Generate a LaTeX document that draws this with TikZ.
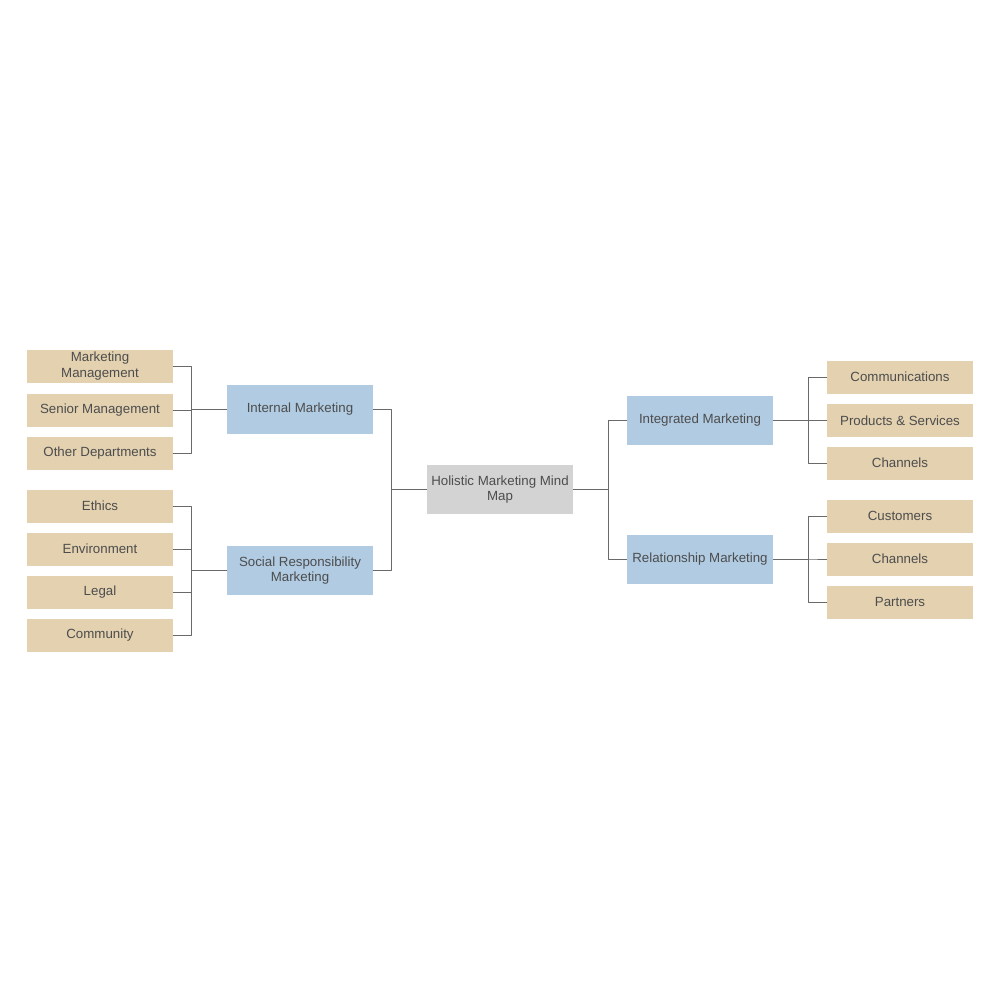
\documentclass[tikz,border=0pt]{standalone}
\usepackage{fontspec}
\setmainfont{Liberation Sans}
\definecolor{leaffill}{RGB}{227,209,176}
\definecolor{branchfill}{RGB}{176,203,226}
\definecolor{rootfill}{RGB}{211,211,211}
\definecolor{textgray}{RGB}{77,77,77}
\definecolor{linegray}{RGB}{105,105,105}

\begin{document}
\begin{tikzpicture}[x=1pt,y=-1pt,line join=round,
  every node/.style={inner sep=1pt,align=center,text=textgray,font=\fontsize{13.3}{15.5}\selectfont},
  leaf/.style={fill=leaffill,minimum width=146pt,minimum height=33pt},
  branch/.style={fill=branchfill,minimum width=146pt,minimum height=49pt},
  root/.style={fill=rootfill,minimum width=146pt,minimum height=49pt},
  link/.style={draw=linegray,line width=0.8pt}]
  \def\g{35}
  \useasboundingbox (0,0) rectangle (1000,1000);
  % centre and main branches
  \node[root] (hmm) at (500,489.5) {Holistic Marketing Mind\\Map};
  \node[branch] (im) at (300,409.5) {Internal Marketing};
  \node[branch] (srm) at (300,570.5) {Social Responsibility\\Marketing};
  \node[branch] (itm) at (700,420.5) {Integrated Marketing};
  \node[branch] (rm) at (700,559) {Relationship Marketing};
  % left leaves
  \node[leaf] (mm) at (100,366) {Marketing\\Management};
  \node[leaf] (sm) at (100,410) {Senior Management};
  \node[leaf] (od) at (100,453) {Other Departments};
  \node[leaf] (eth) at (100,506) {Ethics};
  \node[leaf] (env) at (100,549) {Environment};
  \node[leaf] (leg) at (100,592) {Legal};
  \node[leaf] (com) at (100,635) {Community};
  % right leaves
  \node[leaf] (comm) at (900,377) {Communications};
  \node[leaf] (ps) at (900,420.5) {Products \& Services};
  \node[leaf] (ch) at (900,463) {Channels};
  \node[leaf] (cus) at (900,516) {Customers};
  \node[leaf] (chr) at (900,559) {Channels};
  \node[leaf] (par) at (900,602) {Partners};
  % connectors
  \foreach \b in {im,srm}
    \draw[link] (hmm.west) -- ++(-\g,0) |- (\b.east);
  \foreach \b in {itm,rm}
    \draw[link] (hmm.east) -- ++(\g,0) |- (\b.west);
  \foreach \l in {mm,sm,od}
    \draw[link] (im.west) -- ++(-\g,0) |- (\l.east);
  \foreach \l in {eth,env,leg,com}
    \draw[link] (srm.west) -- ++(-\g,0) |- (\l.east);
  \foreach \l in {comm,ps,ch}
    \draw[link] (itm.east) -- ++(\g,0) |- (\l.west);
  \foreach \l in {cus,chr,par}
    \draw[link] (rm.east) -- ++(\g,0) |- (\l.west);
\end{tikzpicture}
\end{document}
